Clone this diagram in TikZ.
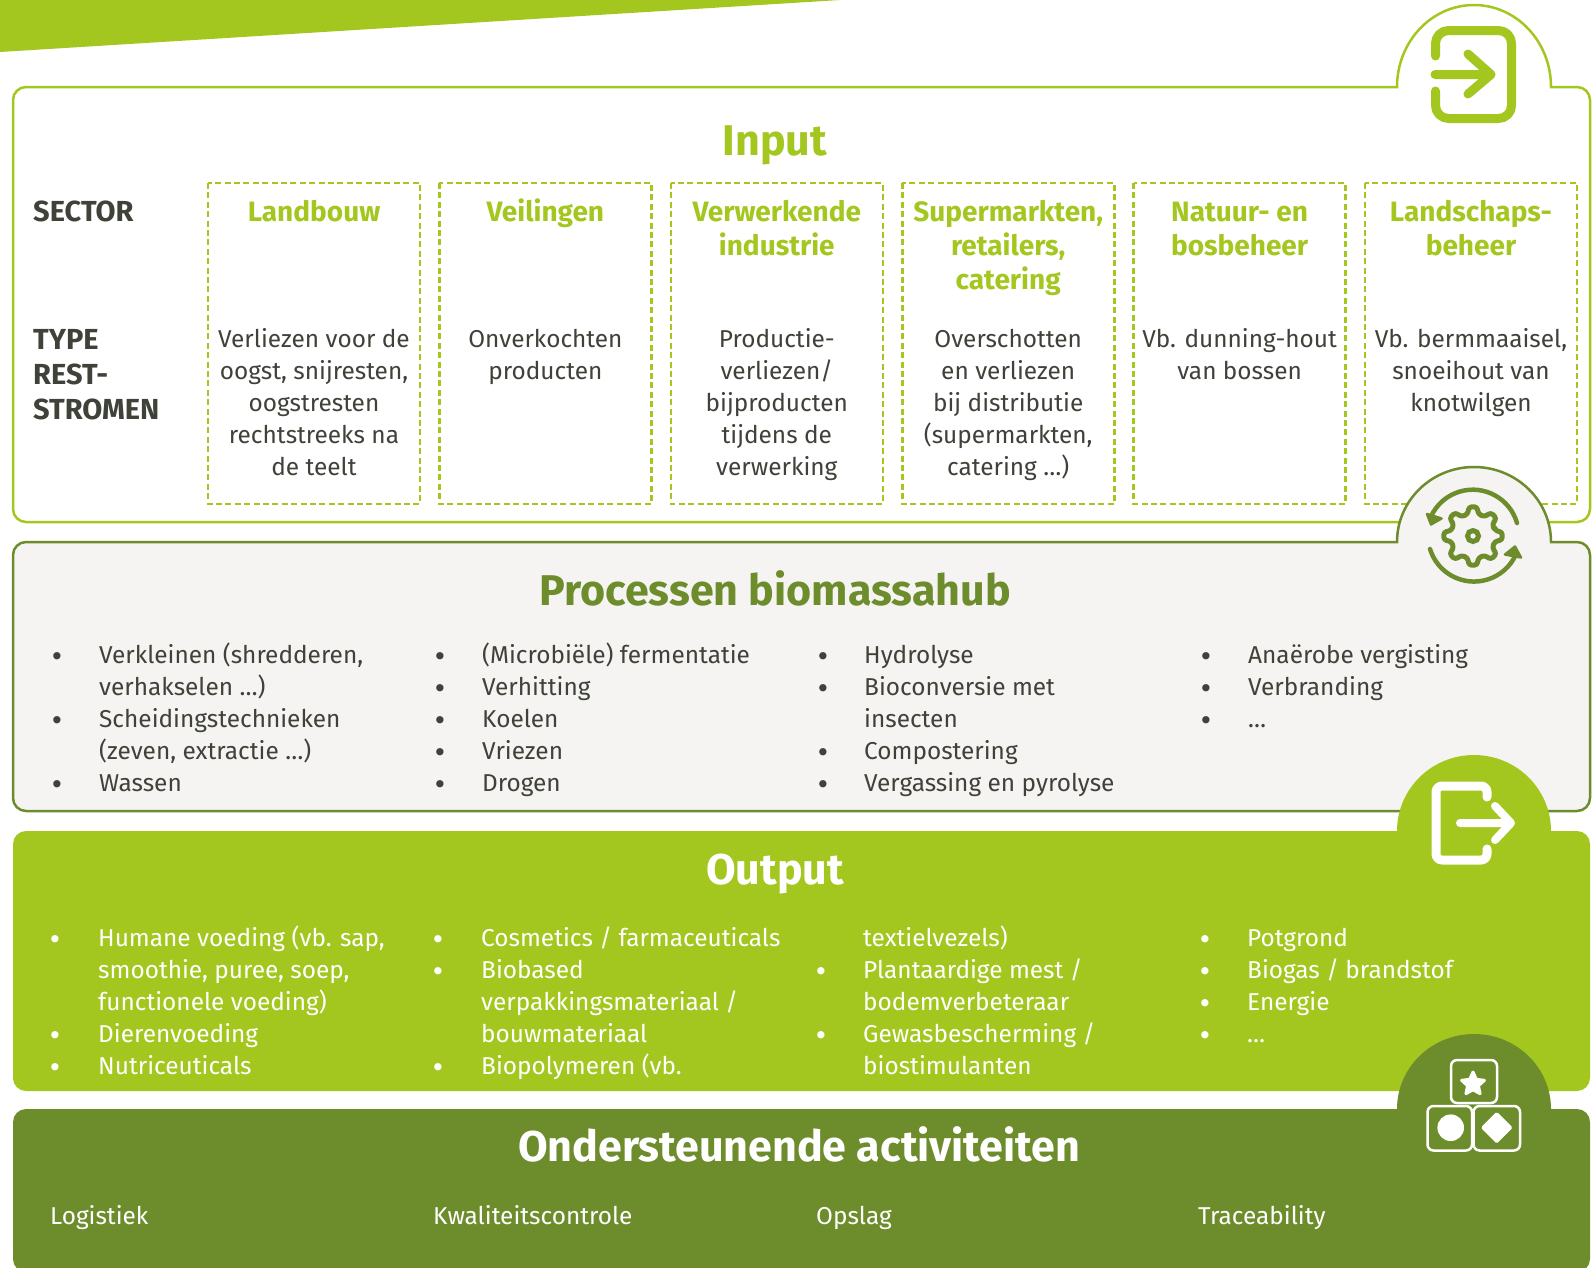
\documentclass[tikz,border=0pt]{standalone}
\usetikzlibrary{shapes.geometric}
\usepackage{fontspec}
\setmainfont{Fira Sans}[Ligatures=TeX]
\newfontfamily\heavy{Fira Sans Bold}
\newfontfamily\bltfont{DejaVu Sans}
\definecolor{lime}{HTML}{A3C71F}
\definecolor{olive}{HTML}{6D8C2B}
\definecolor{paper}{HTML}{F5F4F3}
\definecolor{ink}{HTML}{3F4238}
\newcommand{\fa}{\rule{0pt}{26pt}}
\newcommand{\fb}{\rule{0pt}{30pt}}
\tikzset{x=1pt,y=-1pt,
 dashbox/.style={draw=lime,line width=2.6pt,dash pattern=on 6pt off 3.4pt},
 head/.style={anchor=base,inner sep=0pt,font=\heavy\fontsize{43}{46}\selectfont},
 sect/.style={anchor=north,align=center,inner sep=0pt,font=\heavy\fontsize{28}{34}\selectfont,text=lime},
 side/.style={anchor=north west,align=left,inner sep=0pt,font=\heavy\fontsize{29}{35}\selectfont,text=ink},
 cell/.style={anchor=north,align=center,inner sep=0pt,font=\fontsize{24.4}{32}\selectfont,text=ink},
 item/.style={anchor=north west,align=left,inner sep=0pt,font=\fontsize{24.4}{32}\selectfont},
 blt/.style={anchor=center,inner sep=0pt,yshift=-3pt,font=\bltfont\fontsize{25}{25}\selectfont},
 iconline/.style={line cap=round,line join=round}}
% top, bottom, hump top, style
\newcommand{\tabshape}[4]{%
 \path[#4] (13,#1+13) arc[start angle=180,end angle=270,radius=13] -- (1397,#1)
  arc[start angle=180,end angle=360,x radius=77,y radius=#1-#3] -- (1577,#1) arc[start angle=270,end angle=360,radius=13]
  -- (1590,#2-13) arc[start angle=0,end angle=90,radius=13] -- (26,#2) arc[start angle=90,end angle=180,radius=13] -- cycle;}
\newcommand{\cellbox}[4]{% x, name, title, desc
 \draw[dashbox] (#1,183) rectangle (#1+212,504);
 \node[sect] (s#2) at (#1+106,191) {\fb #3};
 \node[cell] (c#2) at (#1+106,321) {\fa #4};}
\begin{document}
\begin{tikzpicture}
\useasboundingbox (0,0) rectangle (1595,1267);
\fill[lime] (0,0) -- (840,0) -- (0,52) -- cycle;
% ---------- Input
\tabshape{87}{522}{5}{draw=lime,line width=2.5pt,fill=white}
\draw[lime,iconline,line width=9pt,rounded corners=13pt] (1435.5,56) -- (1435.5,30.5) -- (1511.5,30.5) -- (1511.5,118.5) -- (1435.5,118.5) -- (1435.5,91);
\draw[lime,iconline,line width=9pt] (1435,74.5) -- (1491,74.5) (1468,54) -- (1491,74.5) -- (1468,94);
\node[head,text=lime] (inputtitle) at (775,155.5) {Input};
\node[side] (sector) at (33,191) {\fb SECTOR};
\node[side] (type) at (33,319) {\fb TYPE\\REST-\\STROMEN};
\cellbox{208}{a}{Landbouw}{Verliezen voor de\\oogst, snijresten,\\oogstresten\\rechtstreeks na\\de teelt}
\cellbox{439.4}{b}{Veilingen}{Onverkochten\\producten}
\cellbox{670.8}{c}{Verwerkende\\industrie}{Productie-\\verliezen/\\bijproducten\\tijdens de\\verwerking}
\cellbox{902.2}{d}{Supermarkten,\\retailers,\\catering}{Overschotten\\en verliezen\\bij distributie\\(supermarkten,\\catering …)}
\cellbox{1133.6}{e}{Natuur- en\\bosbeheer}{Vb. dunning-hout\\van bossen}
\cellbox{1365}{f}{Landschaps-\\beheer}{Vb. bermmaaisel,\\snoeihout van\\knotwilgen}
% ---------- Processen
\tabshape{542}{811}{467}{draw=olive,line width=2.5pt,fill=paper}
\draw[olive,iconline,line width=5pt,rounded corners=3pt,shift={(1473,536)}]
  (-13.5:22.5) \foreach \a in {0,45,...,315} { -- (\a-13.5:22.5) -- (\a-8:29.5) -- (\a+8:29.5) -- (\a+13.5:22.5) } -- cycle;
\draw[olive,line width=5pt] (1473,536) circle[radius=5.5];
\draw[olive,iconline,line width=4.5pt] (1517,523) arc[start angle=-16,end angle=-155,radius=46];
\draw[olive,iconline,line width=4.5pt] (1430,549) arc[start angle=163,end angle=25,radius=46];
\fill[olive,iconline,draw=olive,line width=2.5pt] (1427,514) -- (1431,524.5) -- (1441.5,518.5) -- cycle;
\fill[olive,iconline,draw=olive,line width=2.5pt] (1515,546.5) -- (1521,557.5) -- (1505,554.5) -- cycle;
\node[head,text=olive] (proctitle) at (775,605) {Processen biomassahub};
\node[item,text=ink] (p1) at (99,637.5) {\fa Verkleinen (shredderen,\\verhakselen …)\\Scheidingstechnieken\\(zeven, extractie …)\\Wassen};
\node[item,text=ink] (p2) at (482,637.5) {\fa (Microbiële) fermentatie\\Verhitting\\Koelen\\Vriezen\\Drogen};
\node[item,text=ink] (p3) at (864,637.5) {\fa Hydrolyse\\Bioconversie met\\insecten\\Compostering\\Vergassing en pyrolyse};
\node[item,text=ink] (p4) at (1248,637.5) {\fa Anaërobe vergisting\\Verbranding\\…};
\foreach \n/\x/\y in {a/57/656,b/57/720,c/57/784,d/440/656,e/440/688,f/440/720,g/440/752,h/440/784,i/823/656,j/823/688,k/823/752,l/823/784,m/1206/656,n/1206/688,o/1206/720}
  \node[blt,text=ink] (pb\n) at (\x,\y) {•};
% ---------- Output
\tabshape{831}{1091}{755}{fill=lime}
\draw[white,iconline,line width=9pt,rounded corners=6pt] (1487,797) -- (1487,786) -- (1436,786) -- (1436,860) -- (1487,860) -- (1487,849);
\draw[white,iconline,line width=8pt] (1460,823) -- (1511,823) (1495,806) -- (1511,823) -- (1495,840);
\node[head,text=white] (outtitle) at (775,884) {Output};
\node[item,text=white] (o1) at (98,920) {\fa Humane voeding (vb. sap,\\smoothie, puree, soep,\\functionele voeding)\\Dierenvoeding\\Nutriceuticals};
\node[item,text=white] (o2) at (481,920) {\fa Cosmetics / farmaceuticals\\Biobased\\verpakkingsmateriaal /\\bouwmateriaal\\Biopolymeren (vb.};
\node[item,text=white] (o3) at (863,920) {\fa textielvezels)\\Plantaardige mest /\\bodemverbeteraar\\Gewasbescherming /\\biostimulanten};
\node[item,text=white] (o4) at (1247,920) {\fa Potgrond\\Biogas / brandstof\\Energie\\…};
\foreach \n/\x/\y in {a/55/939,b/55/1035,c/55/1067,d/438/939,e/438/971,f/438/1067,g/821/971,h/821/1035,i/1205/939,j/1205/971,k/1205/1003,l/1205/1035}
  \node[blt,text=white] (ob\n) at (\x,\y) {•};
% ---------- Ondersteunende activiteiten
\tabshape{1109}{1272}{1034}{fill=olive}
\draw[white,line width=2.5pt,rounded corners=6pt] (1451,1060) rectangle (1497,1103);
\draw[white,line width=2.5pt,rounded corners=6pt] (1427.5,1106) rectangle (1472,1150.5);
\draw[white,line width=2.5pt,rounded corners=6pt] (1473.5,1106) rectangle (1520,1150.5);
\fill[white] (1450.7,1127.7) circle[radius=13.3];
\node[star,star points=5,star point ratio=2.1,shape border rotate=0,fill=white,draw=white,line join=round,line width=3pt,minimum size=24pt,inner sep=0pt] (star) at (1473,1084) {};
\node[diamond,aspect=1,fill=white,draw=white,line join=round,line width=3pt,minimum size=29pt,inner sep=0pt] (ruit) at (1496.7,1127.7) {};
\node[head,text=white] (suptitle) at (799,1161) {Ondersteunende activiteiten};
\node[item,text=white] (s1) at (50,1198) {\fa Logistiek};
\node[item,text=white] (s2) at (433,1198) {\fa Kwaliteitscontrole};
\node[item,text=white] (s3) at (816,1198) {\fa Opslag};
\node[item,text=white] (s4) at (1198,1198) {\fa Traceability};
\end{tikzpicture}
\end{document}
